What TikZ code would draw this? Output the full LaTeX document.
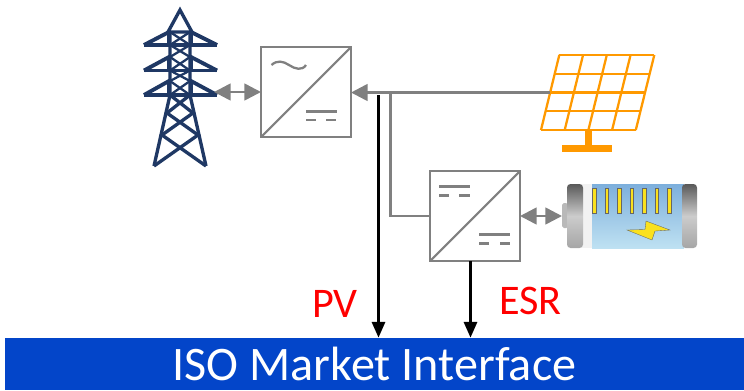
\documentclass[tikz,border=0pt]{standalone}
\usepackage{fontspec}
\setmainfont{Carlito}
\usetikzlibrary{arrows.meta}

\definecolor{towerblue}{RGB}{31,56,100}
\definecolor{panelorange}{RGB}{255,153,0}
\definecolor{busblue}{RGB}{3,69,201}
\definecolor{linegray}{RGB}{128,128,128}
\definecolor{celltop}{RGB}{125,175,220}
\definecolor{cellbot}{RGB}{190,225,242}
\definecolor{boltyellow}{RGB}{250,225,30}

\begin{document}
\begin{tikzpicture}[x=0.02cm, y=-0.02cm]
\tikzstyle{conv}=[rectangle, draw=linegray, line width=1.5pt, fill=white, minimum size=1.8cm, inner sep=0pt, outer sep=0pt]
\tikzstyle{power}=[draw=linegray, line width=1.5pt]
\tikzstyle{biarrow}=[power, {Triangle[length=9.5pt, width=9.5pt]}-{Triangle[length=9.5pt, width=9.5pt]}]
\tikzstyle{oneway}=[power, -{Triangle[length=9.5pt, width=9.5pt]}]
\tikzstyle{signal}=[draw=black, line width=1.5pt, -{Triangle[length=9pt, width=7.5pt]}]
\tikzstyle{lbl}=[text=red, font=\fontsize{24pt}{26pt}\selectfont, inner sep=0pt]
\tikzstyle{tower}=[draw=towerblue, line width=1.9pt, line join=miter]
\tikzstyle{panel}=[draw=panelorange, line width=1.3pt]
\useasboundingbox (0,0) rectangle (744,390);

% Market bar
\node at (374.5,364) [fill=busblue, text=white, minimum width=14.78cm, minimum height=1.04cm, inner sep=0pt, font=\fontsize{27.4pt}{30pt}\selectfont] (iso) {\raisebox{-0.6pt}{ISO Market Interface}};

% Transmission tower
\draw[tower] (168,32) -- (180,10) -- (192,32) -- cycle;
\foreach \h/\p in {45/32,70.5/57,95/81}{
\draw[tower, line width=2.2pt] (144,\h) -- (217,\h);
\draw[tower, line width=2.2pt] (144,\h) -- (169,\p) -- (169,\h);
\draw[tower, line width=2.2pt] (217,\h) -- (191,\p) -- (191,\h);
}
\draw[tower] (170,32) -- (170,95) -- (154,166);
\draw[tower] (190,32) -- (190,95) -- (206,166);
\foreach \a/\b in {32/45,45/57,57/70.5,70.5/81,81/95}{
\draw[tower, line width=1.3pt] (170,\a) -- (190,\b);
\draw[tower, line width=1.3pt] (190,\a) -- (170,\b);
}
\draw[tower] (170,95) -- (193,113) -- (162,135) -- (206,166);
\draw[tower] (190,95) -- (167,113) -- (198,135) -- (154,166);
\coordinate (tower_r) at (214,92);

% Solar panel
\foreach \x in {0,...,4}
\draw[panel] (559.3+\x*23.75,55) -- (541+\x*23.7,130);
\foreach \y in {0,...,4}
\draw[panel] (559.3-\y*4.57,55+\y*18.75) -- (654.3-\y*4.65,55+\y*18.75);
\fill[panelorange] (585,130) rectangle (592,145);
\fill[panelorange] (562,144.5) rectangle (612,151.5);
\coordinate (panel_l) at (550,92.5);

% Battery
\fill[rounded corners=1pt, gray!55] (562,203) rectangle (568,228);
\fill[gray!10] (580,184) rectangle (594,248);
\shade[top color=celltop, bottom color=cellbot] (592,184) rectangle (684,248);
\shade[rounded corners=2pt, top color=black!65, bottom color=black!35, middle color=black!20] (567,184) rectangle (583,248);
\shade[rounded corners=2pt, top color=black!65, bottom color=black!35, middle color=black!20] (682,184) rectangle (697,248);
\foreach \x in {0,...,6}
\fill[boltyellow, draw=black!60, line width=0.2pt] (592.5+\x*12.5,188.5) rectangle (596+\x*12.5,213.5);
\fill[boltyellow, draw=black!60, line width=0.2pt] (627,230) -- (645,229.5) -- (646,221) -- (670,230) -- (655,231) -- (652,240) -- cycle;
\coordinate (bat_l) at (562,216);

% Converters
\node at (306,92) [conv] (inv) {};
\node at (475,216) [conv] (dcdc) {};
\draw[power, line width=1.2pt] (inv.south west) -- (inv.north east);
\draw[power, line width=1.2pt] (dcdc.south west) -- (dcdc.north east);
% AC and DC symbols
\draw[power, line width=1.3pt] (271.5,65) .. controls (277,60) and (283,61) .. (289,65) .. controls (295,69) and (302,71) .. (306,65);
\draw[power, line width=1.3pt] (306,111.5) -- (337,111.5);
\draw[power, line width=1.3pt] (306,120) -- (316,120) (326,120) -- (336,120);
\draw[power, line width=1.3pt] (439,186.5) -- (470,186.5);
\draw[power, line width=1.3pt] (439,195.5) -- (449,195.5) (459,195.5) -- (470,195.5);
\draw[power, line width=1.3pt] (479,234.5) -- (510,234.5);
\draw[power, line width=1.3pt] (479,243.5) -- (489,243.5) (500,243.5) -- (510,243.5);

% Power lines
\draw[biarrow] (tower_r) -- (inv.west |- tower_r);
\draw[oneway] (panel_l) -- (inv.east |- panel_l);
\coordinate (tap) at (390.5,92.5);
\draw[power] (tap) |- (dcdc.west);
\draw[biarrow] (dcdc.east) -- (bat_l);

% Signals
\coordinate (pv_out) at (378.5,95);
\draw[signal] (pv_out) -- (pv_out |- iso.north);
\draw[signal] (dcdc.south) ++(-4.5,0) coordinate (esr_out) -- (esr_out |- iso.north);

% Text
\node at (335,304) [lbl] (pv_lbl) {PV};
\node at (530.5,301) [lbl] (esr_lbl) {ESR};
\end{tikzpicture}
\end{document}
